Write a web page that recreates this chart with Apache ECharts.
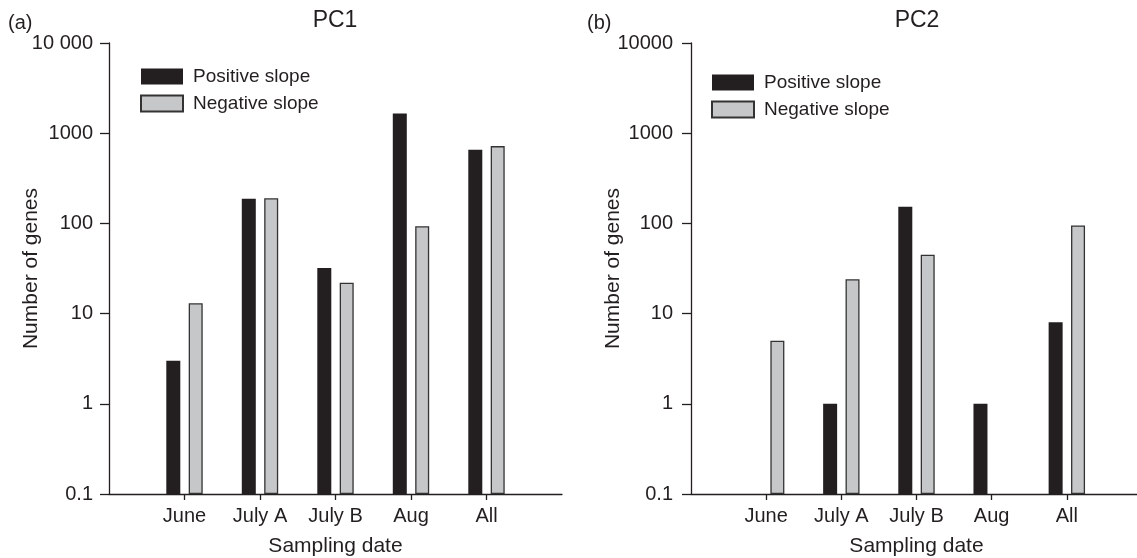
<!DOCTYPE html>
<html><head><meta charset="utf-8">
<script src="https://cdn.jsdelivr.net/npm/echarts@6/dist/echarts.min.js"></script>
<style>html,body{margin:0;padding:0;background:#fff}#c{width:1137px;height:558px}</style>
</head><body><div id="c"></div>
<script>
// ---- data ----
const categories = ['', 'June', 'July A', 'July B', 'Aug', 'All', ''];
const pc1Positive = ['-', 3, 188, 32, 1650, 656, '-'];
const pc1Negative = ['-', 13, 190, 22, 93, 719, '-'];
const pc2Positive = ['-', '-', 1, 153, 1, 8, '-'];
const pc2Negative = ['-', 5, 24, 45, '-', 95, '-'];
const tickValues = [0.1, 1, 10, 100, 1000, 10000];
const pc1TickLabels = ['0.1', '1', '10', '100', '1000', '10 000'];
const pc2TickLabels = ['0.1', '1', '10', '100', '1000', '10000'];
const seriesNames = ['Positive slope', 'Negative slope'];
const panelTitles = ['PC1', 'PC2'];
const panelLetters = ['(a)', '(b)'];

// ---- style ----
const FONT = '"Liberation Sans", Arial, Helvetica, sans-serif';
const INK = '#231f20';
const DARK = '#231f20';
const LIGHT = '#c6c7c8';

function labelFor(labels) {
  return function (v) {
    const i = tickValues.findIndex(t => Math.abs(Math.log10(t) - Math.log10(v)) < 1e-6);
    return i >= 0 ? labels[i] : '';
  };
}

const grids = [
  { left: 109, top: 43, width: 453, height: 451, outerBoundsMode: 'none', containLabel: false },
  { left: 691, top: 43, width: 451, height: 451, outerBoundsMode: 'none', containLabel: false }
];

function xAxisFor(g) {
  return {
    type: 'category', gridIndex: g, data: categories, boundaryGap: false,
    axisLine: { show: true, lineStyle: { color: INK, width: 1.3 } },
    axisTick: { show: true, length: 6, interval: (i) => i > 0 && i < categories.length - 1, lineStyle: { color: INK, width: 1.3 } },
    axisLabel: { interval: 0, fontSize: 20, fontFamily: FONT, color: INK, margin: 12 },
    splitLine: { show: false },
    name: 'Sampling date', nameLocation: 'middle', nameGap: 42, nameMoveOverlap: false,
    nameTextStyle: { fontSize: 21, fontFamily: FONT, color: INK }
  };
}
function yAxisFor(g, labels, margin) {
  return {
    type: 'log', logBase: 10, gridIndex: g, min: 0.1, max: 10000, startValue: 0.1, splitNumber: 5,
    axisLine: { show: true, lineStyle: { color: INK, width: 1.3 } },
    axisTick: { show: true, length: 9, lineStyle: { color: INK, width: 1.3 } },
    axisLabel: { fontSize: 20, fontFamily: FONT, color: INK, margin: margin, formatter: labelFor(labels) },
    splitLine: { show: false },
    name: 'Number of genes', nameLocation: 'middle', nameGap: 67, nameRotate: 90, nameMoveOverlap: false,
    nameTextStyle: { fontSize: 21, fontFamily: FONT, color: INK }
  };
}

function barSeries(name, data, axisIdx, dark) {
  return {
    type: 'bar', name: name, data: data, xAxisIndex: axisIdx, yAxisIndex: axisIdx,
    barWidth: 14, barGap: '60%',
    itemStyle: dark ? { color: DARK, borderColor: DARK, borderWidth: 0 }
                    : { color: LIGHT, borderColor: '#333', borderWidth: 1.3 },
    emphasis: { disabled: true },
    animation: false
  };
}

function legendAt(left, top) {
  return {
    orient: 'vertical', left: left, top: top, icon: 'rect',
    itemWidth: 42, itemHeight: 16, itemGap: 8, selectedMode: false,
    data: seriesNames,
    textStyle: { fontSize: 19, fontFamily: FONT, color: INK, padding: [0, 0, 0, 5] }
  };
}

function textEl(txt, x, y, size, align) {
  return {
    type: 'text', x: x, y: y,
    style: { text: txt, font: size + 'px ' + FONT, fill: INK,
             textAlign: align, align: align, textVerticalAlign: 'middle', verticalAlign: 'middle' }
  };
}

const chart = echarts.init(document.getElementById('c'), null, { renderer: 'canvas' });
chart.setOption({
  animation: false,
  backgroundColor: '#fff',
  grid: grids,
  xAxis: [xAxisFor(0), xAxisFor(1)],
  yAxis: [yAxisFor(0, pc1TickLabels, 16), yAxisFor(1, pc2TickLabels, 18)],
  legend: [legendAt(135, 62), legendAt(706, 68)],
  series: [
    barSeries(seriesNames[0], pc1Positive, 0, true),
    barSeries(seriesNames[1], pc1Negative, 0, false),
    barSeries(seriesNames[0], pc2Positive, 1, true),
    barSeries(seriesNames[1], pc2Negative, 1, false)
  ],
  graphic: [
    textEl(panelTitles[0], 335, 21, 23, 'center'),
    textEl(panelTitles[1], 917, 21, 23, 'center'),
    textEl(panelLetters[0], 8, 23, 20, 'left'),
    textEl(panelLetters[1], 587, 23, 20, 'left')
  ]
});
</script></body></html>
